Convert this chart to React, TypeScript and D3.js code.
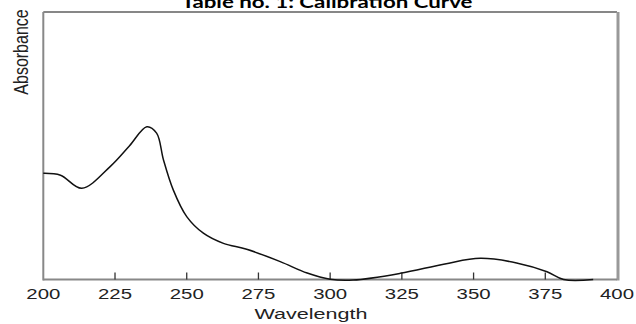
import React from "react";
import * as d3 from "d3";

const wavelengths = [200, 206, 213.4, 223.3, 230, 236.1, 239.5, 241.9, 245.3, 250, 255.8, 262.8, 270.9, 282.6, 292, 300, 308, 324.4, 340, 352.3, 365, 375.6, 381.4, 391.7];
const absorbance = [0.397, 0.39, 0.341, 0.422, 0.499, 0.571, 0.547, 0.447, 0.335, 0.235, 0.173, 0.135, 0.113, 0.067, 0.024, 0.001, -0.002, 0.023, 0.058, 0.079, 0.062, 0.029, 0.0, 0.0];
const xTicks = [200, 225, 250, 275, 300, 325, 350, 375, 400];
const title = "Table no. 1: Calibration Curve";
const xLabel = "Wavelength";
const yLabel = "Absorbance";

export default function App() {
  const W = 636, H = 324;
  const left = 43.3, right = 617, top = 12, bottom = 279.5;
  const x = d3.scaleLinear().domain([200, 400]).range([left, right]);
  const y = d3.scaleLinear().domain([0, 1]).range([bottom, bottom - 267.5]);
  const pts: [number, number][] = wavelengths.map((w, i) => [w, absorbance[i]]);
  const line = d3
    .line<[number, number]>()
    .x((d) => x(d[0]))
    .y((d) => y(d[1]))
    .curve(d3.curveCatmullRom.alpha(0.5));
  return (
    <svg
      width={W}
      height={H}
      style={{ position: "absolute", left: 0, top: 0, background: "#fff" }}
    >
      <text
        x={327}
        y={8}
        textAnchor="middle"
        fontFamily="Lato, 'Open Sans', sans-serif"
        fontWeight="bold"
        fontSize={17}
        textLength={291}
        lengthAdjust="spacingAndGlyphs"
        fill="#000"
      >
        {title}
      </text>
      {/* frame */}
      <line x1={left} x2={right} y1={top} y2={top} stroke="#111" strokeWidth={1.2} />
      <line x1={right + 1} x2={right + 1} y1={top} y2={bottom + 1} stroke="#999" strokeWidth={3} />
      <line x1={left} x2={left} y1={top} y2={bottom + 1} stroke="#888" strokeWidth={2} />
      <line x1={left} x2={right} y1={bottom} y2={bottom} stroke="#888" strokeWidth={2} />
      {xTicks.map((t) => (
        <g key={t}>
          {t > 200 && t < 400 && (
            <line x1={x(t)} x2={x(t)} y1={bottom} y2={bottom - 7} stroke="#333" strokeWidth={1.3} />
          )}
          <text
            x={x(t)}
            y={299}
            textAnchor="middle"
            fontFamily="'Liberation Sans', Arial, sans-serif"
            fontSize={15}
            textLength={34}
            lengthAdjust="spacingAndGlyphs"
            fill="#222"
          >
            {t}
          </text>
        </g>
      ))}
      <text
        x={311}
        y={319}
        textAnchor="middle"
        fontFamily="'Liberation Sans', Arial, sans-serif"
        fontSize={14}
        textLength={113}
        lengthAdjust="spacingAndGlyphs"
        fill="#222"
      >
        {xLabel}
      </text>
      <text
        transform="translate(28,52) scale(1.3,1) rotate(-90)"
        textAnchor="middle"
        fontFamily="'Liberation Sans', Arial, sans-serif"
        fontSize={16}
        fill="#222"
      >
        {yLabel}
      </text>
      <path d={line(pts) || ""} fill="none" stroke="#111" strokeWidth={1.5} />
    </svg>
  );
}
